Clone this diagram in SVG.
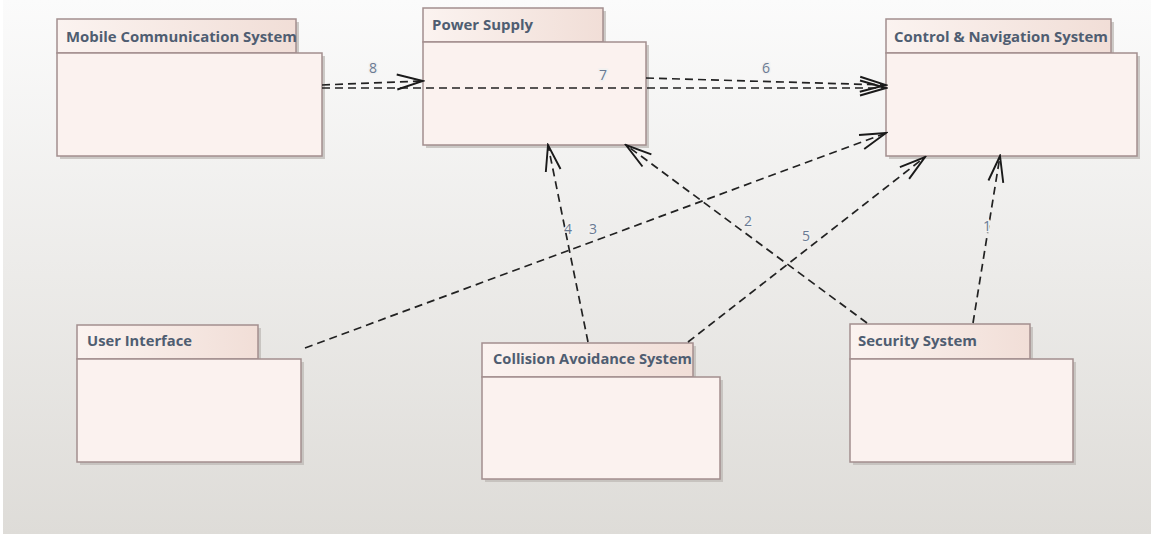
<svg xmlns="http://www.w3.org/2000/svg" width="1151" height="534" viewBox="0 0 1151 534">
<defs>
<linearGradient id="bg" x1="0" y1="0" x2="0" y2="1">
<stop offset="0" stop-color="#fbfbfb"/>
<stop offset="1" stop-color="#dedcd8"/>
</linearGradient>
<linearGradient id="tab" x1="0" y1="0" x2="1" y2="0">
<stop offset="0" stop-color="#fbf3f0"/>
<stop offset="1" stop-color="#f1ded7"/>
</linearGradient>
<marker id="arr" markerUnits="userSpaceOnUse" markerWidth="30" markerHeight="20" viewBox="0 0 30 20" refX="28" refY="10" orient="auto">
<path d="M2,2.5 L28,10 L2,17.5" fill="none" stroke="#1a1a1a" stroke-width="1.9" stroke-dasharray="none"/>
</marker>
</defs>
<style>
.shadow{fill:#bdb9b5;opacity:0.75}
.tab{fill:url(#tab);stroke:#a38e8e;stroke-width:1.5}
.body{fill:#fbf2ef;stroke:#a38e8e;stroke-width:1.5}
.title{font-family:"Open Sans","Liberation Sans",sans-serif;font-weight:bold;font-size:14.5px;fill:#4f5d71}
.conn{fill:none;stroke:#222;stroke-width:1.7;stroke-dasharray:8,5;marker-end:url(#arr)}
.lbl{font-family:"Open Sans","Liberation Sans",sans-serif;font-size:14px;fill:#6a7a93;text-anchor:middle;stroke:#f1f1f0;stroke-width:3;paint-order:stroke}
</style>
<rect x="3" y="0" width="1148" height="534" fill="url(#bg)"/>

<g id="mobile-communication-system">
<rect class="shadow" x="60" y="22" width="239" height="34"/>
<rect class="shadow" x="60" y="56" width="265" height="103"/>
<rect class="tab" x="57" y="19" width="239" height="34"/>
<rect class="body" x="57" y="53" width="265" height="103"/>
<text class="title" x="66" y="41.5" textLength="231" lengthAdjust="spacingAndGlyphs">Mobile Communication System</text>
</g>

<g id="power-supply">
<rect class="shadow" x="426" y="11" width="180" height="34"/>
<rect class="shadow" x="426" y="45" width="223" height="103"/>
<rect class="tab" x="423" y="8" width="180" height="34"/>
<rect class="body" x="423" y="42" width="223" height="103"/>
<text class="title" x="432" y="30" textLength="101" lengthAdjust="spacingAndGlyphs">Power Supply</text>
</g>

<g id="control-navigation-system">
<rect class="shadow" x="889" y="22" width="225" height="34"/>
<rect class="shadow" x="889" y="56" width="251" height="103"/>
<rect class="tab" x="886" y="19" width="225" height="34"/>
<rect class="body" x="886" y="53" width="251" height="103"/>
<text class="title" x="894" y="41.5" textLength="214" lengthAdjust="spacingAndGlyphs">Control &amp; Navigation System</text>
</g>

<g id="user-interface">
<rect class="shadow" x="80" y="328" width="181" height="34"/>
<rect class="shadow" x="80" y="362" width="224" height="103"/>
<rect class="tab" x="77" y="325" width="181" height="34"/>
<rect class="body" x="77" y="359" width="224" height="103"/>
<text class="title" x="87" y="346" textLength="105" lengthAdjust="spacingAndGlyphs">User Interface</text>
</g>

<g id="collision-avoidance-system">
<rect class="shadow" x="485" y="346" width="211" height="34"/>
<rect class="shadow" x="485" y="380" width="238" height="102"/>
<rect class="tab" x="482" y="343" width="211" height="34"/>
<rect class="body" x="482" y="377" width="238" height="102"/>
<text class="title" x="493" y="364" textLength="199" lengthAdjust="spacingAndGlyphs">Collision Avoidance System</text>
</g>

<g id="security-system">
<rect class="shadow" x="853" y="327" width="180" height="35"/>
<rect class="shadow" x="853" y="362" width="223" height="103"/>
<rect class="tab" x="850" y="324" width="180" height="35"/>
<rect class="body" x="850" y="359" width="223" height="103"/>
<text class="title" x="858" y="346" textLength="119" lengthAdjust="spacingAndGlyphs">Security System</text>
</g>

<g id="connectors">
<path class="conn" d="M973,323 L1000,156"/>
<path class="conn" d="M867,323 L626,145"/>
<path class="conn" d="M305,348 L886,133"/>
<path class="conn" d="M588,342 L548,145"/>
<path class="conn" d="M688,342 L925,157"/>
<path class="conn" d="M646,78 L886,85"/>
<path class="conn" d="M322,88 L886,88"/>
<path class="conn" d="M322,85 L423,81"/>
<text class="lbl" x="987" y="231">1</text>
<text class="lbl" x="748" y="226">2</text>
<text class="lbl" x="593" y="234">3</text>
<text class="lbl" x="568" y="234">4</text>
<text class="lbl" x="806" y="241">5</text>
<text class="lbl" x="766" y="73">6</text>
<text class="lbl" x="603" y="80">7</text>
<text class="lbl" x="373" y="73">8</text>
</g>
</svg>
